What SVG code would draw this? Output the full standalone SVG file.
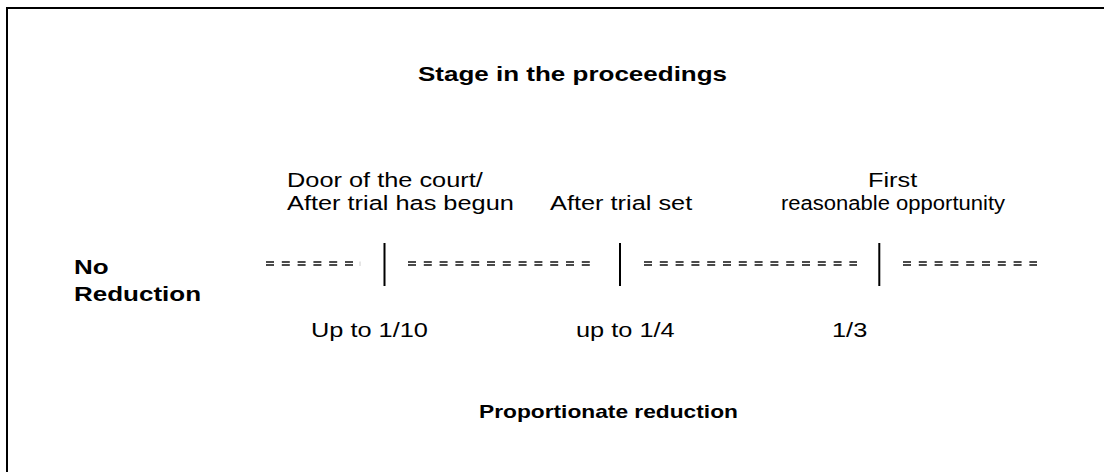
<svg xmlns="http://www.w3.org/2000/svg" width="1104" height="472" viewBox="0 0 1104 472">
<style>
text{font-family:"Liberation Sans",Arial,sans-serif;fill:#000}
.b{font-weight:bold;font-size:20px}
.r{font-size:19.5px}
.s{font-weight:bold;font-size:17.5px}
.dash{stroke:#111;stroke-width:1.6;stroke-dasharray:8 7.8;fill:none}
.tick{stroke:#000;stroke-width:2}
</style>
<rect x="0" y="0" width="1104" height="472" fill="#fff"/>
<rect x="7" y="8" width="1200" height="600" fill="none" stroke="#000" stroke-width="2"/>
<g id="title"><text class="b" transform="matrix(1.3 0 0 1 418 81)">Stage in the proceedings</text></g>
<g id="stage-door"><text class="r" transform="matrix(1.3 0 0 1 287 187)">Door of the court/</text><text class="r" transform="matrix(1.3 0 0 1 287 210)">After trial has begun</text></g>
<g id="stage-set"><text class="r" transform="matrix(1.3 0 0 1 550 210)">After trial set</text></g>
<g id="stage-first"><text class="r" transform="matrix(1.3 0 0 1 868 187)">First</text><text class="r" transform="matrix(1.13 0 0 1 781 210)">reasonable opportunity</text></g>
<g id="no-reduction"><text class="b" transform="matrix(1.3 0 0 1 74 274)">No</text><text class="b" transform="matrix(1.3 0 0 1 74 301)">Reduction</text></g>
<g id="red-10"><text class="r" transform="matrix(1.3 0 0 1 311 337)">Up to 1/10</text></g>
<g id="red-4"><text class="r" transform="matrix(1.3 0 0 1 576 337)">up to 1/4</text></g>
<g id="red-3"><text class="r" transform="matrix(1.3 0 0 1 832 337)">1/3</text></g>
<g id="proportionate"><text class="s" transform="matrix(1.3 0 0 1 479 418)">Proportionate reduction</text></g>
<g id="connectors">
<path class="dash" d="M266 262H354M266 265H354"/>
<path d="M360 261.5V266" stroke="#ccc" stroke-width="1"/>
<path class="dash" d="M408 262H590M408 265H590"/>
<path class="dash" d="M644 262H857M644 265H857"/>
<path class="dash" d="M903 262H1037M903 265H1037"/>
<path class="tick" d="M384.5 243V286M620 243V286M879.3 243V286"/>
</g>
</svg>
